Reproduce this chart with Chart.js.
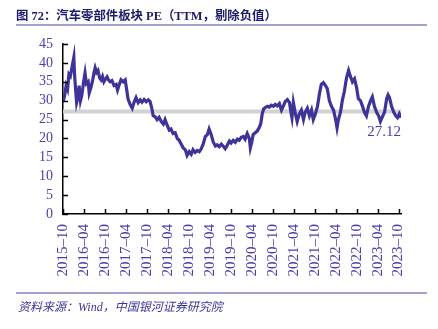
<!DOCTYPE html>
<html>
<head>
<meta charset="utf-8">
<script src="https://cdn.jsdelivr.net/npm/chart.js@4"></script>
<style>
  body { margin: 0; background: #fff; }
  .wrap { position: relative; width: 438px; height: 329px; overflow: hidden; }
  canvas { position: absolute; left: 0; top: 0; }
  .title { position: absolute; left: 16px; top: 6px; font: bold 12.4px "Liberation Serif", "Noto Sans CJK SC", serif; color: #1c1a6b; white-space: nowrap; }
  .rule { position: absolute; left: 16px; width: 411px; height: 2px; background: #a4a2d0; }
  .source { position: absolute; left: 18px; top: 297px; font: italic 12px "Liberation Serif", "Noto Sans CJK SC", serif; color: #3d3699; white-space: nowrap; }
</style>
</head>
<body>
<div class="wrap">
  <canvas id="peChart" width="438" height="329"></canvas>
  <div class="title">图 72：汽车零部件板块 PE（TTM，剔除负值）</div>
  <div class="rule" style="top:24px"></div>
  <div class="rule" style="top:292px"></div>
  <div class="source">资料来源：Wind，中国银河证券研究院</div>
</div>
<script>
const dates = [
  '2015-10-01','2015-10-13','2015-10-28','2015-11-10','2015-11-22','2015-12-04','2015-12-19','2016-01-04','2016-01-10','2016-01-19',
  '2016-01-28','2016-02-10','2016-02-19','2016-03-01','2016-03-13','2016-03-28','2016-04-10','2016-04-22','2016-05-07','2016-05-16',
  '2016-06-01','2016-06-16','2016-06-28','2016-07-07','2016-07-19','2016-08-01','2016-08-16','2016-08-28','2016-09-10','2016-09-22',
  '2016-10-07','2016-10-19','2016-11-01','2016-11-16','2016-12-01','2016-12-19','2017-01-07','2017-01-19','2017-02-01','2017-02-19',
  '2017-03-07','2017-03-25','2017-04-07','2017-04-19','2017-05-07','2017-05-25','2017-06-10','2017-06-28','2017-07-16','2017-08-04',
  '2017-08-19','2017-09-07','2017-09-25','2017-10-13','2017-10-28','2017-11-13','2017-11-25','2017-12-13','2017-12-28','2018-01-16',
  '2018-02-04','2018-02-22','2018-03-07','2018-03-25','2018-04-13','2018-04-28','2018-05-16','2018-06-04','2018-06-22','2018-07-07',
  '2018-07-25','2018-08-13','2018-09-01','2018-09-16','2018-10-04','2018-10-22','2018-11-07','2018-11-25','2018-12-13','2019-01-01',
  '2019-01-16','2019-02-04','2019-02-22','2019-03-10','2019-03-25','2019-04-13','2019-05-01','2019-05-19','2019-06-04','2019-06-22',
  '2019-07-10','2019-07-25','2019-08-13','2019-09-01','2019-09-19','2019-10-04','2019-10-22','2019-11-10','2019-11-28','2019-12-13',
  '2020-01-01','2020-01-19','2020-02-04','2020-02-22','2020-03-10','2020-03-19','2020-04-01','2020-04-13','2020-05-01','2020-05-19',
  '2020-06-07','2020-06-19','2020-07-01','2020-07-13','2020-07-28','2020-08-16','2020-09-01','2020-09-19','2020-10-07','2020-10-22',
  '2020-11-10','2020-11-28','2020-12-16','2021-01-01','2021-01-19','2021-02-07','2021-02-25','2021-03-07','2021-03-16','2021-03-28',
  '2021-04-16','2021-05-01','2021-05-19','2021-06-07','2021-06-25','2021-07-10','2021-07-28','2021-08-16','2021-09-04','2021-09-19',
  '2021-10-07','2021-10-25','2021-11-13','2021-11-28','2021-12-16','2022-01-04','2022-01-19','2022-02-07','2022-02-25','2022-03-13',
  '2022-04-01','2022-04-13','2022-04-25','2022-05-13','2022-05-28','2022-06-16','2022-07-04','2022-07-22','2022-08-07','2022-08-25',
  '2022-09-13','2022-10-01','2022-10-16','2022-11-04','2022-11-22','2022-12-07','2022-12-25','2023-01-13','2023-02-01','2023-02-16',
  '2023-03-04','2023-03-22','2023-04-10','2023-04-25','2023-05-13','2023-06-01','2023-06-19','2023-07-01','2023-07-13','2023-08-01',
  '2023-08-19','2023-09-07','2023-09-22','2023-10-07','2023-10-22'
];
const pe = [
  29.8, 31.0, 34.0, 33.0, 37.0, 36.5, 39.0, 41.5, 37.0, 33.0,
  29.5, 31.0, 34.0, 30.0, 31.5, 35.0, 37.3, 34.5, 35.0, 32.0,
  33.5, 35.5, 37.5, 38.7, 37.5, 38.0, 36.0, 35.5, 36.4, 35.0,
  35.8, 36.3, 35.5, 35.0, 35.3, 34.0, 34.3, 32.8, 34.0, 35.5,
  35.0, 35.5, 33.0, 30.5, 29.0, 28.0, 29.5, 30.8, 29.5, 30.2,
  29.6, 30.3, 29.7, 30.2, 29.8, 28.0, 26.0, 25.7, 25.0, 25.6,
  24.5, 23.8, 25.0, 23.5, 22.2, 22.5, 21.3, 21.5, 20.0, 19.6,
  18.5, 17.5, 17.0, 15.5, 16.5, 15.8, 17.0, 16.3, 16.8, 16.5,
  17.2, 18.5, 20.5, 21.0, 22.5, 21.0, 19.0, 18.0, 18.3, 17.8,
  18.5, 18.0, 17.3, 18.2, 19.3, 18.8, 19.5, 19.0, 19.8, 19.5,
  20.3, 20.5, 19.8, 21.3, 20.0, 17.5, 19.0, 21.0, 21.5, 22.0,
  23.0, 24.0, 26.5, 27.8, 28.2, 28.5, 28.3, 28.8, 28.5, 29.0,
  28.6, 29.2, 27.5, 28.5, 29.8, 30.3, 29.5, 27.0, 25.5, 29.5,
  26.5, 24.5, 26.5, 27.5, 25.0, 27.0, 28.0, 26.0, 27.5, 25.0,
  26.5, 28.5, 32.0, 34.3, 34.8, 34.0, 33.2, 30.0, 28.5, 27.5,
  25.0, 22.8, 25.0, 27.0, 30.0, 32.5, 36.0, 38.0, 36.5, 35.0,
  35.8, 33.5, 30.5, 30.0, 28.5, 27.0, 26.0, 28.5, 30.0, 31.0,
  28.5, 27.0, 26.0, 24.5, 25.8, 27.0, 30.5, 31.5, 30.8, 28.5,
  27.0, 26.0, 25.5, 26.5, 25.5
];
const meanPE = 27.12;
const xTicks = [
  '2015-10', '2016-04', '2016-10', '2017-04', '2017-10', '2018-04', '2018-10', '2019-04', '2019-10',
  '2020-04', '2020-10', '2021-04', '2021-10', '2022-04', '2022-10', '2023-04', '2023-10'
];
const yTicks = [0, 5, 10, 15, 20, 25, 30, 35, 40, 45];

// months since 2015-10-01, used as the x value
const toMonth = d => {
  const [y, m, day] = d.split('-').map(Number);
  return (y - 2015) * 12 + (m - 10) + ((day || 1) - 1) / 30;
};

const xs = dates.map(toMonth);
const xMax = xs[xs.length - 1];
const purple = '#3d3399';
const tickColor = '#4a40ac';

const innerTicks = {
  id: 'innerTicks',
  afterDraw(chart) {
    const { ctx, scales: { x, y } } = chart;
    ctx.save();
    ctx.strokeStyle = '#000';
    ctx.lineWidth = 1.5;
    ctx.beginPath();
    x.ticks.forEach(t => {
      const px = Math.round(x.getPixelForValue(t.value)) + 0.5;
      ctx.moveTo(px, y.bottom);
      ctx.lineTo(px, y.bottom - 5);
    });
    yTicks.forEach(v => {
      const py = Math.round(y.getPixelForValue(v)) + 0.5;
      ctx.moveTo(x.left, py);
      ctx.lineTo(x.left + 5, py);
    });
    ctx.stroke();
    ctx.fillStyle = tickColor;
    ctx.font = '15px "Liberation Serif", serif';
    ctx.textAlign = 'right';
    ctx.textBaseline = 'middle';
    ctx.fillText(meanPE.toFixed(2), x.right, y.getPixelForValue(meanPE) + 21);
    ctx.restore();
  }
};

new Chart(document.getElementById('peChart'), {
  type: 'line',
  data: {
    datasets: [
      { data: xs.map((x, i) => ({ x, y: pe[i] })), borderColor: purple, borderWidth: 3.2, pointRadius: 0, tension: 0, order: 1 },
      { data: [{ x: 0, y: meanPE }, { x: xMax, y: meanPE }], borderColor: '#d2d2d2', borderWidth: 4, pointRadius: 0, order: 2 }
    ]
  },
  options: {
    responsive: false,
    animation: false,
    events: [],
    layout: { padding: { left: 0, right: 37, top: 44, bottom: 0 } },
    plugins: { legend: { display: false }, tooltip: { enabled: false } },
    scales: {
      x: {
        type: 'linear', min: 0, max: xMax,
        grid: { display: false, drawTicks: false },
        border: { display: true, color: '#000', width: 1.5 },
        afterBuildTicks: s => { s.ticks = xTicks.map(l => ({ value: toMonth(l + '-01'), label: l })); },
        afterFit: s => { s.height = 115; },
        ticks: {
          autoSkip: false, minRotation: 90, maxRotation: 90, padding: 10,
          color: tickColor, font: { family: '"Liberation Serif", serif', size: 15 },
          callback: (v, i) => xTicks[i].replace('-', '–')
        }
      },
      y: {
        min: 0, max: 45,
        grid: { display: false, drawTicks: false },
        border: { display: true, color: '#000', width: 1.5 },
        afterFit: s => { s.width = 63; },
        ticks: {
          stepSize: 5, autoSkip: false, padding: 10,
          color: tickColor, font: { family: '"Liberation Serif", serif', size: 14 }
        }
      }
    }
  },
  plugins: [innerTicks]
});
</script>
</body>
</html>
